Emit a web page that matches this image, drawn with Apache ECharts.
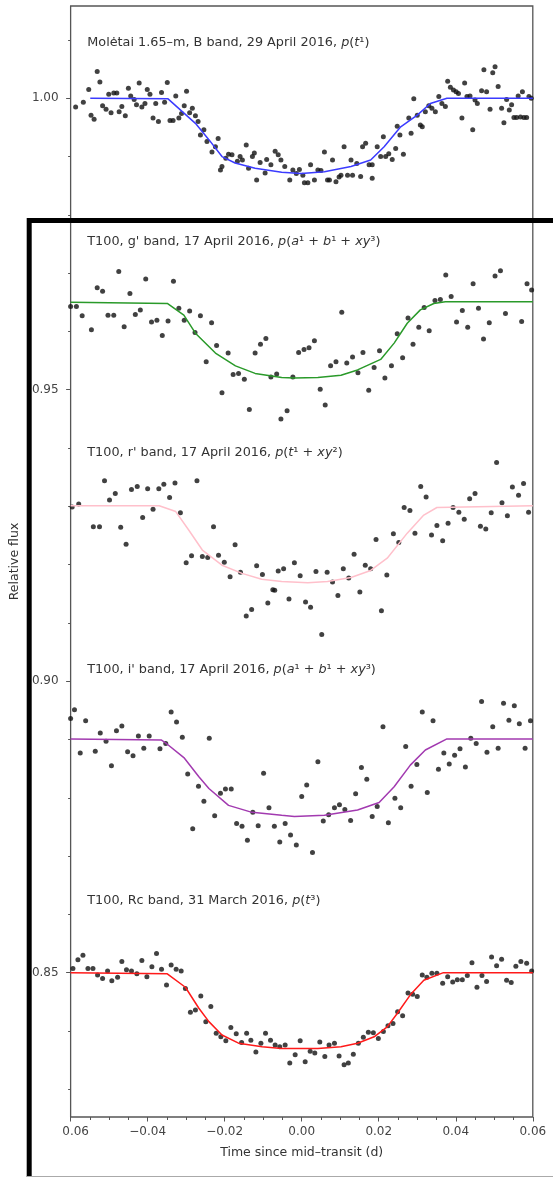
<!DOCTYPE html>
<html>
<head>
<meta charset="utf-8">
<script src="https://cdn.jsdelivr.net/npm/echarts@6/dist/echarts.min.js"></script>
<style>
html, body { margin: 0; padding: 0; background: #fff; }
#chart { width: 553px; height: 1177px; }
</style>
</head>
<body>
<div id="chart"></div>
<script>
// time since mid-transit (d), relative flux (offset per light curve)
const moletaiB = [
  [-0.0587,0.9985],[-0.0567,0.9993],[-0.0553,1.0015],[-0.0531,1.0046],[-0.0524,1.0028],[-0.0547,0.9971],[-0.0539,0.9964],[-0.0517,0.9987],[-0.0508,0.9981],[-0.0501,1.0007],[-0.0495,0.9975],[-0.0488,1.0009],[-0.0480,1.0009],[-0.0474,0.9977],[-0.0467,0.9986],[-0.0458,0.9970],[-0.0450,1.0017],[-0.0444,1.0004],[-0.0435,0.9998],[-0.0429,0.9989],[-0.0422,1.0026],[-0.0415,0.9985],[-0.0407,0.9991],[-0.0401,1.0015],[-0.0394,1.0007],[-0.0386,0.9966],[-0.0379,0.9991],[-0.0372,0.9960],[-0.0364,1.0010],[-0.0356,0.9993],[-0.0349,1.0027],[-0.0342,0.9962],[-0.0334,0.9962],[-0.0327,1.0004],[-0.0319,0.9966],[-0.0312,0.9974],[-0.0305,0.9987],[-0.0299,1.0012],[-0.0291,0.9975],[-0.0284,0.9983],[-0.0276,0.9970],[-0.0269,0.9960],[-0.0263,0.9937],[-0.0254,0.9946],[-0.0246,0.9926],[-0.0233,0.9908],[-0.0224,0.9917],[-0.0217,0.9931],[-0.0211,0.9877],[-0.0207,0.9883],[-0.0197,0.9897],[-0.0190,0.9904],[-0.0181,0.9903],[-0.0167,0.9892],[-0.0160,0.9900],[-0.0154,0.9894],[-0.0144,0.9920],[-0.0138,0.9880],[-0.0128,0.9900],[-0.0123,0.9906],[-0.0117,0.9860],[-0.0108,0.9890],[-0.0095,0.9872],[-0.0091,0.9895],[-0.0080,0.9886],[-0.0069,0.9909],[-0.0061,0.9903],[-0.0054,0.9894],
  [-0.0044,0.9883],[-0.0031,0.9860],[-0.0023,0.9877],[-0.0014,0.9871],[-0.0006,0.9878],[0.0003,0.9868],[0.0007,0.9855],[0.0016,0.9855],[0.0023,0.9886],[0.0033,0.9860],[0.0042,0.9877],[0.0050,0.9876],[0.0059,0.9908],[0.0067,0.9860],[0.0072,0.9860],[0.0080,0.9894],[0.0089,0.9857],[0.0097,0.9865],[0.0102,0.9868],[0.0110,0.9917],[0.0119,0.9868],[0.0128,0.9894],[0.0132,0.9868],[0.0143,0.9888],[0.0153,0.9866],[0.0158,0.9917],[0.0166,0.9923],[0.0175,0.9886],[0.0183,0.9886],[0.0183,0.9863],[0.0196,0.9917],[0.0205,0.9900],[0.0212,0.9934],[0.0218,0.9900],[0.0226,0.9905],[0.0235,0.9895],[0.0244,0.9914],[0.0248,0.9952],[0.0255,0.9937],[0.0264,0.9904],[0.0278,0.9966],[0.0284,0.9940],[0.0291,0.9999],[0.0300,0.9971],[0.0308,0.9954],[0.0313,0.9951],[0.0321,0.9977],[0.0330,0.9987],[0.0338,0.9983],[0.0347,0.9977],[0.0356,1.0003],[0.0364,0.9991],[0.0373,0.9986],[0.0379,1.0029],[0.0386,1.0019],[0.0394,1.0014],[0.0401,1.0011],[0.0407,1.0008],[0.0416,0.9966],[0.0423,1.0026],[0.0429,1.0003],[0.0437,1.0004],[0.0444,0.9946],[0.0450,0.9997],[0.0456,0.9991],[0.0467,1.0013],[0.0473,1.0049],[0.0480,1.0011],[0.0489,0.9981],[0.0496,1.0044],[0.0502,1.0054],[0.0510,1.0020],[0.0519,0.9983],[0.0525,0.9958],[0.0532,0.9998],[0.0539,0.9980],[0.0545,0.9989],[0.0551,0.9967],[0.0558,0.9967],[0.0562,1.0004],[0.0568,0.9968],[0.0573,1.0011],[0.0577,0.9967],[0.0584,0.9967],[0.0590,1.0003],[0.0596,1.0000]
];
const moletaiBModel = [
  [-0.0549,1.0000],[-0.0347,0.9999],[-0.0276,0.9957],[-0.0241,0.9929],[-0.0207,0.9900],[-0.0173,0.9889],[-0.0121,0.9880],[-0.0052,0.9873],[-0.0001,0.9871],[0.0059,0.9874],[0.0128,0.9883],[0.0179,0.9894],[0.0214,0.9917],[0.0257,0.9951],[0.0300,0.9971],[0.0334,0.9991],[0.0377,1.0000],[0.0600,1.0000]
];

const t100g = [
  [-0.0600,0.9643],[-0.0585,0.9643],[-0.0570,0.9627],[-0.0546,0.9603],[-0.0531,0.9675],[-0.0517,0.9669],[-0.0503,0.9628],[-0.0488,0.9628],[-0.0475,0.9703],[-0.0461,0.9608],[-0.0446,0.9665],[-0.0432,0.9629],[-0.0419,0.9637],[-0.0405,0.9690],[-0.0390,0.9616],[-0.0376,0.9619],[-0.0362,0.9593],[-0.0347,0.9618],[-0.0333,0.9686],[-0.0319,0.9640],[-0.0305,0.9619],[-0.0291,0.9635],[-0.0277,0.9598],[-0.0263,0.9627],[-0.0248,0.9548],[-0.0234,0.9615],[-0.0221,0.9576],[-0.0207,0.9495],[-0.0191,0.9563],[-0.0178,0.9526],[-0.0164,0.9528],[-0.0149,0.9518],[-0.0136,0.9466],[-0.0121,0.9563],[-0.0107,0.9578],[-0.0093,0.9588],[-0.0080,0.9522],[-0.0065,0.9527],[-0.0054,0.9450],
  [-0.0038,0.9464],[-0.0023,0.9522],[-0.0008,0.9564],[0.0006,0.9569],[0.0019,0.9572],[0.0033,0.9584],[0.0048,0.9501],[0.0061,0.9474],[0.0075,0.9541],[0.0089,0.9548],[0.0104,0.9633],[0.0117,0.9546],[0.0132,0.9556],[0.0146,0.9529],[0.0159,0.9564],[0.0174,0.9499],[0.0188,0.9538],[0.0202,0.9567],[0.0216,0.9520],[0.0233,0.9541],[0.0248,0.9596],[0.0262,0.9555],[0.0276,0.9623],[0.0289,0.9578],[0.0304,0.9607],[0.0318,0.9641],[0.0331,0.9601],[0.0346,0.9653],[0.0360,0.9655],[0.0374,0.9697],[0.0388,0.9660],[0.0402,0.9616],[0.0417,0.9636],[0.0431,0.9607],[0.0445,0.9682],[0.0459,0.9640],[0.0472,0.9587],[0.0487,0.9615],[0.0502,0.9695],[0.0516,0.9704],[0.0529,0.9631],[0.0571,0.9617],[0.0585,0.9682],[0.0597,0.9671]
];
const t100gModel = [
  [-0.0600,0.9650],[-0.0349,0.9648],[-0.0306,0.9628],[-0.0276,0.9597],[-0.0224,0.9563],[-0.0172,0.9541],[-0.0121,0.9528],[-0.0052,0.9521],[-0.0019,0.9520],[0.0042,0.9521],[0.0102,0.9525],[0.0145,0.9534],[0.0205,0.9552],[0.0240,0.9580],[0.0274,0.9614],[0.0308,0.9637],[0.0343,0.9648],[0.0373,0.9651],[0.0600,0.9651]
];

const t100r = [
  [-0.0596,0.9299],[-0.0579,0.9304],[-0.0541,0.9265],[-0.0525,0.9265],[-0.0512,0.9344],[-0.0499,0.9311],[-0.0484,0.9322],[-0.0470,0.9264],[-0.0456,0.9235],[-0.0442,0.9329],[-0.0427,0.9334],[-0.0413,0.9281],[-0.0400,0.9330],[-0.0386,0.9295],[-0.0371,0.9330],[-0.0358,0.9338],[-0.0343,0.9315],[-0.0329,0.9340],[-0.0315,0.9289],[-0.0300,0.9203],[-0.0286,0.9215],[-0.0272,0.9344],[-0.0258,0.9214],[-0.0244,0.9212],[-0.0229,0.9265],[-0.0216,0.9216],[-0.0201,0.9204],[-0.0186,0.9179],[-0.0173,0.9234],[-0.0159,0.9187],[-0.0144,0.9112],[-0.0130,0.9123],[-0.0117,0.9198],[-0.0102,0.9183],[-0.0088,0.9134],[-0.0075,0.9157],[-0.0061,0.9189],
  [-0.0070,0.9156],[-0.0047,0.9193],[-0.0033,0.9141],[-0.0019,0.9203],[-0.0004,0.9181],[0.0010,0.9136],[0.0023,0.9127],[0.0037,0.9188],[0.0052,0.9080],[0.0066,0.9187],[0.0080,0.9170],[0.0094,0.9147],[0.0108,0.9193],[0.0122,0.9177],[0.0136,0.9218],[0.0151,0.9153],[0.0165,0.9199],[0.0179,0.9193],[0.0193,0.9243],[0.0207,0.9121],[0.0221,0.9182],[0.0238,0.9253],[0.0252,0.9238],[0.0266,0.9298],[0.0281,0.9293],[0.0294,0.9254],[0.0309,0.9334],[0.0323,0.9316],[0.0337,0.9251],[0.0351,0.9267],[0.0366,0.9241],[0.0380,0.9271],[0.0393,0.9298],[0.0408,0.9290],[0.0422,0.9278],[0.0436,0.9313],[0.0450,0.9322],[0.0464,0.9266],[0.0478,0.9261],[0.0492,0.9289],[0.0506,0.9375],[0.0520,0.9306],[0.0534,0.9284],[0.0547,0.9333],[0.0563,0.9319],[0.0576,0.9339],[0.0589,0.9290]
];
const t100rModel = [
  [-0.0600,0.9301],[-0.0370,0.9301],[-0.0327,0.9291],[-0.0293,0.9259],[-0.0258,0.9225],[-0.0207,0.9199],[-0.0155,0.9185],[-0.0104,0.9175],[-0.0052,0.9171],[0.0016,0.9169],[0.0067,0.9171],[0.0128,0.9178],[0.0179,0.9190],[0.0222,0.9211],[0.0274,0.9254],[0.0317,0.9285],[0.0351,0.9298],[0.0600,0.9301]
];

const t100i = [
  [-0.0600,0.8936],[-0.0590,0.8951],[-0.0575,0.8877],[-0.0561,0.8932],[-0.0536,0.8880],[-0.0523,0.8911],[-0.0508,0.8897],[-0.0494,0.8855],[-0.0481,0.8915],[-0.0467,0.8923],[-0.0452,0.8879],[-0.0438,0.8872],[-0.0424,0.8906],[-0.0410,0.8885],[-0.0396,0.8906],[-0.0368,0.8884],[-0.0353,0.8893],[-0.0339,0.8947],[-0.0325,0.8930],[-0.0310,0.8904],[-0.0296,0.8841],[-0.0283,0.8747],[-0.0268,0.8820],[-0.0254,0.8794],[-0.0240,0.8902],[-0.0226,0.8769],[-0.0211,0.8808],[-0.0198,0.8815],[-0.0183,0.8815],[-0.0169,0.8756],[-0.0155,0.8751],[-0.0141,0.8727],[-0.0127,0.8775],[-0.0113,0.8752],[-0.0099,0.8842],[-0.0085,0.8783],[-0.0071,0.8751],[-0.0057,0.8724],
  [-0.0043,0.8756],[-0.0029,0.8736],[-0.0014,0.8719],[0.0000,0.8802],[0.0013,0.8822],[0.0028,0.8706],[0.0042,0.8862],[0.0056,0.8760],[0.0070,0.8771],[0.0085,0.8783],[0.0098,0.8788],[0.0112,0.8780],[0.0127,0.8761],[0.0140,0.8807],[0.0155,0.8852],[0.0169,0.8832],[0.0183,0.8768],[0.0196,0.8785],[0.0211,0.8922],[0.0225,0.8757],[0.0242,0.8799],[0.0257,0.8783],[0.0270,0.8888],[0.0284,0.8820],[0.0299,0.8857],[0.0313,0.8947],[0.0326,0.8809],[0.0341,0.8932],[0.0355,0.8849],[0.0369,0.8877],[0.0383,0.8858],[0.0397,0.8873],[0.0411,0.8884],[0.0425,0.8853],[0.0439,0.8902],[0.0453,0.8893],[0.0467,0.8965],[0.0481,0.8878],[0.0496,0.8922],[0.0510,0.8885],[0.0524,0.8962],[0.0538,0.8933],[0.0552,0.8958],[0.0565,0.8927],[0.0580,0.8885],[0.0594,0.8932]
];
const t100iModel = [
  [-0.0600,0.8901],[-0.0364,0.8899],[-0.0353,0.8894],[-0.0306,0.8869],[-0.0267,0.8836],[-0.0241,0.8816],[-0.0190,0.8787],[-0.0129,0.8775],[-0.0052,0.8770],[-0.0019,0.8768],[0.0059,0.8770],[0.0145,0.8779],[0.0201,0.8792],[0.0240,0.8819],[0.0282,0.8856],[0.0321,0.8882],[0.0377,0.8901],[0.0600,0.8901]
];

const t100Rc = [
  [-0.0594,0.8507],[-0.0581,0.8522],[-0.0568,0.8530],[-0.0555,0.8507],[-0.0542,0.8507],[-0.0530,0.8496],[-0.0517,0.8490],[-0.0504,0.8503],[-0.0493,0.8486],[-0.0478,0.8492],[-0.0467,0.8519],[-0.0455,0.8505],[-0.0442,0.8503],[-0.0428,0.8498],[-0.0415,0.8521],[-0.0402,0.8493],[-0.0389,0.8510],[-0.0377,0.8533],[-0.0364,0.8506],[-0.0351,0.8479],[-0.0339,0.8513],[-0.0326,0.8506],[-0.0313,0.8503],[-0.0302,0.8473],[-0.0289,0.8432],[-0.0276,0.8436],[-0.0262,0.8460],[-0.0249,0.8416],[-0.0236,0.8442],[-0.0222,0.8396],[-0.0210,0.8390],[-0.0197,0.8383],[-0.0184,0.8406],[-0.0170,0.8395],[-0.0156,0.8380],[-0.0143,0.8396],[-0.0132,0.8384],[-0.0119,0.8364],[-0.0106,0.8379],[-0.0094,0.8396],[-0.0081,0.8384],[-0.0069,0.8376],[-0.0057,0.8373],
  [-0.0043,0.8376],[-0.0031,0.8345],[-0.0017,0.8359],[-0.0004,0.8383],[0.0009,0.8347],[0.0022,0.8365],[0.0034,0.8362],[0.0047,0.8381],[0.0060,0.8356],[0.0071,0.8376],[0.0085,0.8379],[0.0097,0.8357],[0.0110,0.8342],[0.0121,0.8345],[0.0134,0.8360],[0.0147,0.8379],[0.0160,0.8389],[0.0173,0.8398],[0.0186,0.8397],[0.0199,0.8387],[0.0212,0.8399],[0.0224,0.8409],[0.0237,0.8413],[0.0249,0.8433],[0.0262,0.8426],[0.0276,0.8465],[0.0288,0.8463],[0.0300,0.8459],[0.0313,0.8496],[0.0325,0.8492],[0.0338,0.8499],[0.0351,0.8499],[0.0366,0.8482],[0.0379,0.8493],[0.0392,0.8484],[0.0404,0.8488],[0.0417,0.8488],[0.0430,0.8495],[0.0442,0.8517],[0.0455,0.8475],[0.0468,0.8495],[0.0480,0.8485],[0.0493,0.8527],[0.0506,0.8512],[0.0519,0.8523],[0.0532,0.8487],[0.0544,0.8483],[0.0556,0.8511],[0.0569,0.8519],[0.0584,0.8516],[0.0597,0.8503]
];
const t100RcModel = [
  [-0.0600,0.8500],[-0.0349,0.8498],[-0.0302,0.8475],[-0.0267,0.8439],[-0.0241,0.8416],[-0.0207,0.8393],[-0.0164,0.8379],[-0.0103,0.8373],[-0.0052,0.8370],[-0.0019,0.8370],[0.0042,0.8370],[0.0102,0.8373],[0.0145,0.8379],[0.0188,0.8390],[0.0222,0.8407],[0.0248,0.8430],[0.0282,0.8462],[0.0317,0.8487],[0.0368,0.8500],[0.0600,0.8500]
];

const yMajorTicks = [0.85, 0.90, 0.95, 1.00];
const yMinorTicks = [0.83, 0.84, 0.86, 0.87, 0.88, 0.89, 0.91, 0.92, 0.93, 0.94, 0.96, 0.97, 0.98, 0.99, 1.01];

const panelTitles = [
  'Molėtai 1.65–m, B band, 29 April 2016, {i|p}({i|t}¹)',
  "T100, g' band, 17 April 2016, {i|p}({i|a}¹ + {i|b}¹ + {i|xy}³)",
  "T100, r' band, 17 April 2016, {i|p}({i|t}¹ + {i|xy}²)",
  "T100, i' band, 17 April 2016, {i|p}({i|a}¹ + {i|b}¹ + {i|xy}³)",
  'T100, Rc band, 31 March 2016, {i|p}({i|t}³)'
];
const titleY = [42.5, 241.5, 452.5, 669.5, 900.5];

const FONT = '"DejaVu Sans", sans-serif';
const TXT = '#333';
const AX = '#555';
const Y_MIN = 0.82524, Y_MAX = 1.01583;

const curves = [
  { data: moletaiB, model: moletaiBModel, color: '#3b3bff' },
  { data: t100g, model: t100gModel, color: '#2a9a2a' },
  { data: t100r, model: t100rModel, color: '#ffc0cb' },
  { data: t100i, model: t100iModel, color: '#a23ab0' },
  { data: t100Rc, model: t100RcModel, color: '#ff1a1a' }
];

const series = [];
curves.forEach(function (c) {
  series.push({
    type: 'scatter', data: c.data, symbolSize: 5, z: 2,
    itemStyle: { color: '#111' }
  });
});
curves.forEach(function (c) {
  series.push({
    type: 'line', data: c.model, showSymbol: false, z: 3,
    lineStyle: { color: c.color, width: 1.5 }
  });
});

// y axes: one carries the labels, the others only the major / minor ticks
function tickAxis(values, len) {
  return {
    type: 'value', min: Y_MIN, max: Y_MAX, position: 'left',
    axisLine: { show: false },
    axisTick: { show: true, customValues: values, length: len, lineStyle: { color: AX, width: 1 } },
    axisLabel: { show: false },
    splitLine: { show: false }
  };
}

const chart = echarts.init(document.getElementById('chart'));
chart.setOption({
  animation: false,
  backgroundColor: '#fff',
  grid: {
    left: 67.3, top: 6, width: 465.5, height: 1111,
    show: true, borderColor: AX, borderWidth: 1.3, backgroundColor: 'transparent'
  },
  xAxis: {
    type: 'value', min: -0.06, max: 0.06, interval: 0.02,
    name: 'Time since mid–transit (d)', nameLocation: 'middle', nameGap: 29,
    nameTextStyle: { fontFamily: FONT, fontSize: 12.5, color: TXT },
    axisLine: { show: false },
    axisTick: { show: true, length: 4.5, lineStyle: { color: AX, width: 1 } },
    minorTick: { show: true, splitNumber: 4, length: 3, lineStyle: { color: AX, width: 1 } },
    splitLine: { show: false },
    axisLabel: {
      fontFamily: FONT, fontSize: 12, color: '#444', margin: 9,
      formatter: function (v) {
        const s = Math.abs(v).toFixed(2);
        if (v < -0.0595) return '{h|−}' + s;
        return (v < -1e-6 ? '−' : '') + s;
      },
      rich: { h: { color: 'rgba(0,0,0,0)', fontFamily: FONT, fontSize: 12 } }
    }
  },
  yAxis: [{
    type: 'value', min: Y_MIN, max: Y_MAX, position: 'left',
    name: 'Relative flux', nameLocation: 'middle', nameGap: 46,
    nameTextStyle: { fontFamily: FONT, fontSize: 12.5, color: TXT },
    axisLine: { show: false },
    axisTick: { show: false },
    splitLine: { show: false },
    axisLabel: {
      customValues: yMajorTicks, fontFamily: FONT, fontSize: 12, color: '#444', margin: 12,
      formatter: function (v) { return v.toFixed(2); }
    }
  }, tickAxis(yMajorTicks, 4.5), tickAxis(yMinorTicks, 2.5)],
  series: series,
  graphic: panelTitles.map(function (t, k) {
    return {
      type: 'text', x: 87.3, y: titleY[k], z: 50,
      style: {
        text: t, fill: TXT, fontFamily: FONT, fontSize: 12.8,
        verticalAlign: 'middle', textVerticalAlign: 'middle',
        rich: { i: { fontStyle: 'italic', fontFamily: FONT, fontSize: 12.8, fill: TXT } }
      }
    };
  }).concat([
    {
      type: 'polyline', z: 100,
      shape: { points: [[29.2, 1190], [29.2, 220.5], [570, 220.5]] },
      style: { stroke: '#000', lineWidth: 5, fill: null }
    },
    {
      type: 'line', z: 100,
      shape: { x1: 27, y1: 1176.5, x2: 553, y2: 1176.5 },
      style: { stroke: '#aaa', lineWidth: 1 }
    }
  ])
});
</script>
</body>
</html>
